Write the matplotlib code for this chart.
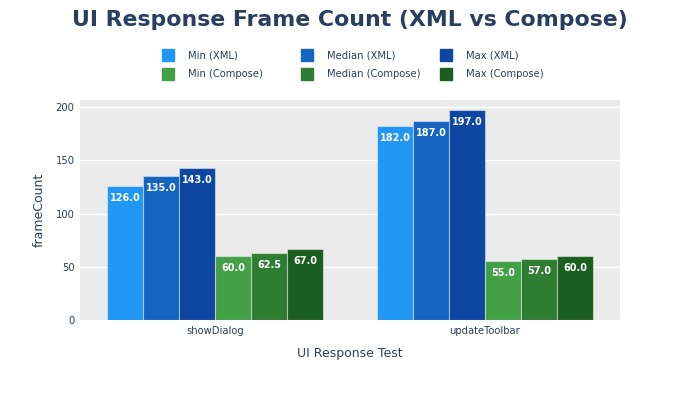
import matplotlib
matplotlib.use("Agg")
import matplotlib.pyplot as plt
from matplotlib.patches import Rectangle
import numpy as np

tests = ["showDialog", "updateToolbar"]
series_names = ["Min (XML)", "Median (XML)", "Max (XML)",
                "Min (Compose)", "Median (Compose)", "Max (Compose)"]
min_xml = [126.0, 182.0]
median_xml = [135.0, 187.0]
max_xml = [143.0, 197.0]
min_compose = [60.0, 55.0]
median_compose = [62.5, 57.0]
max_compose = [67.0, 60.0]
colors = ["#2196F3", "#1565C0", "#0D47A1", "#43A047", "#2E7D32", "#1B5E20"]

series = [min_xml, median_xml, max_xml, min_compose, median_compose, max_compose]

W, H = 700, 400
px = 0.72  # px -> pt at dpi 100
txt = "#2a3f5f"
plt.rcParams["font.family"] = ["DejaVu Sans"]

fig = plt.figure(figsize=(7, 4), dpi=100)
ax = fig.add_axes([80 / W, 1 - 320 / H, 540 / W, 220 / H])
ax.set_facecolor("#EBEBEB")

n = len(series)
group_w = 0.8
bar_w = group_w / n
x = np.arange(len(tests))
for i, (vals, c) in enumerate(zip(series, colors)):
    pos = x - group_w / 2 + bar_w * (i + 0.5)
    bars = ax.bar(pos, vals, width=bar_w, color=c, edgecolor=(1, 1, 1, 0.45),
                  linewidth=0.8, zorder=3)
    for b, v in zip(bars, vals):
        ax.annotate(f"{v:.1f}", (b.get_x() + b.get_width() / 2, v),
                    xytext=(0, -5), textcoords="offset points",
                    ha="center", va="top", color="white", fontweight="bold",
                    fontsize=9.8 * px, zorder=4)

ax.set_xlim(-0.5, 1.5)
ax.set_ylim(0, 206.6)
ax.set_yticks([0, 50, 100, 150, 200])
ax.set_xticks(x)
ax.set_xticklabels(tests)
ax.grid(axis="y", color="white", linewidth=1, zorder=0)
ax.set_axisbelow(True)
for s in ax.spines.values():
    s.set_visible(False)
ax.tick_params(length=0, labelsize=10 * px, colors=txt, pad=4)
ax.set_xlabel("UI Response Test", fontsize=12.5 * px, color=txt, labelpad=8)
ax.set_ylabel("frameCount", fontsize=12.5 * px, color=txt, labelpad=7)

fig.text(0.5, 1 - 20 / H, "UI Response Frame Count (XML vs Compose)",
         ha="center", va="center", fontsize=22 * px, fontweight="bold", color=txt)

# legend: 3 columns x 2 rows
for i, (name, c) in enumerate(zip(series_names, colors)):
    col, row = i % 3, i // 3
    mx = 162 + col * 139
    my = 55 + row * 19
    fig.add_artist(Rectangle((mx / W, 1 - (my + 6) / H), 12 / W, 12 / H,
                             transform=fig.transFigure, color=c))
    fig.text((mx + 26) / W, 1 - my / H, name, ha="left", va="center",
             fontsize=10 * px, color=txt)

fig.savefig("out.png", dpi=100, facecolor="white")
